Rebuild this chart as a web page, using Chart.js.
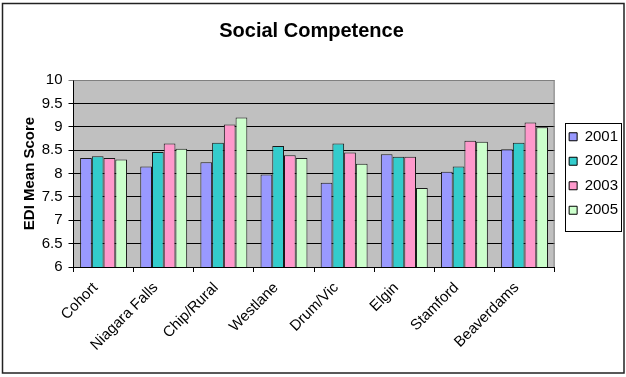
<!DOCTYPE html>
<html>
<head>
<meta charset="utf-8">
<title>Social Competence</title>
<script src="https://cdn.jsdelivr.net/npm/chart.js@4.4.1/dist/chart.umd.min.js"></script>
<style>
  html, body { margin: 0; padding: 0; background: #fff; }
  #wrap { width: 626px; height: 377px; }
</style>
</head>
<body>
<div id="wrap"><canvas id="socialChart" width="626" height="377"></canvas></div>
<script>
// Sites and yearly EDI mean scores
const sites = ['Cohort', 'Niagara Falls', 'Chip/Rural', 'Westlane', 'Drum/Vic', 'Elgin', 'Stamford', 'Beaverdams'];
const years = ['2001', '2002', '2003', '2005'];

const scores2001 = [8.33, 8.15, 8.24, 7.98, 7.80, 8.41, 8.04, 8.52];
const scores2002 = [8.37, 8.46, 8.66, 8.59, 8.64, 8.36, 8.15, 8.66];
const scores2003 = [8.33, 8.64, 9.05, 8.39, 8.45, 8.36, 8.70, 9.09];
const scores2005 = [8.30, 8.53, 9.20, 8.33, 8.21, 7.69, 8.68, 8.99];

const yearColors = ['#9999FF', '#33CCCC', '#FF99CC', '#CCFFCC'];

const FONT = 'Arial, "Liberation Sans", sans-serif';
const LEGEND_SHIFT = 5;

// grey plot background, frame lines and the legend/outer borders
const frame = {
    id: 'frame',
    afterLayout(chart) {
        // nudge the legend a little away from the plot
        const lg = chart.legend;
        lg.left += LEGEND_SHIFT;
        lg.right += LEGEND_SHIFT;
        if (lg.adjustHitBoxes) lg.adjustHitBoxes();
    },
    beforeDraw(chart) {
        const { ctx, chartArea: a } = chart;
        ctx.save();
        ctx.fillStyle = '#fff';
        ctx.fillRect(0, 0, chart.width, chart.height);
        ctx.fillStyle = '#C0C0C0';
        ctx.fillRect(a.left, a.top, a.right - a.left, a.bottom - a.top);
        ctx.restore();
    },
    afterDraw(chart) {
        const { ctx, chartArea: a, legend } = chart;
        ctx.save();
        // plot frame: top and right edges in grey
        ctx.strokeStyle = '#808080';
        ctx.lineWidth = 1;
        ctx.beginPath();
        ctx.moveTo(a.left, a.top + 0.5);
        ctx.lineTo(a.right - 0.5, a.top + 0.5);
        ctx.lineTo(a.right - 0.5, a.bottom);
        ctx.stroke();

        // legend box
        const hb = legend.legendHitBoxes;
        if (hb && hb.length) {
            const x0 = legend.left + legend.options.labels.padding - 4;
            const y0 = hb[0].top - 6.5;
            const last = hb[hb.length - 1];
            const w = Math.max(...hb.map(h => h.width));
            ctx.strokeStyle = '#000';
            ctx.strokeRect(Math.round(x0) + 0.5, Math.round(y0) + 0.5,
                Math.round(w + 7), Math.round(last.top + last.height + 13 - y0));
        }

        // outer chart border
        ctx.strokeStyle = '#222';
        ctx.lineWidth = 1.5;
        ctx.strokeRect(2.5, 3.5, 621.5, 369.5);
        ctx.restore();
    }
};

const makeSet = (label, data, color) => ({
    label,
    data,
    backgroundColor: color,
    borderColor: '#1a1a1a',
    borderWidth: 1,
    categoryPercentage: 0.78,
    barPercentage: 1.0
});

const ctx = document.getElementById('socialChart').getContext('2d');
new Chart(ctx, {
    type: 'bar',
    data: {
        labels: sites,
        datasets: [
            makeSet(years[0], scores2001, yearColors[0]),
            makeSet(years[1], scores2002, yearColors[1]),
            makeSet(years[2], scores2003, yearColors[2]),
            makeSet(years[3], scores2005, yearColors[3])
        ]
    },
    options: {
        responsive: false,
        animation: false,
        devicePixelRatio: 1,
        layout: { padding: { left: 0, right: 3, top: 0, bottom: 10 } },
        plugins: {
            title: {
                display: true,
                text: 'Social Competence',
                color: '#000',
                font: { family: FONT, size: 20, weight: 'bold' },
                padding: { top: 19, bottom: 37 }
            },
            legend: {
                position: 'right',
                fullSize: false,
                labels: {
                    color: '#000',
                    font: { family: FONT, size: 15 },
                    boxWidth: 8,
                    boxHeight: 8,
                    padding: 9.5,
                    generateLabels(chart) {
                        return chart.data.datasets.map((ds, i) => ({
                            text: ds.label,
                            fillStyle: ds.backgroundColor,
                            strokeStyle: '#000',
                            lineWidth: 1,
                            datasetIndex: i
                        }));
                    }
                }
            },
            tooltip: { enabled: false }
        },
        scales: {
            x: {
                afterFit(scale) { scale.height = 100; },
                grid: {
                    drawOnChartArea: false,
                    drawTicks: true,
                    tickLength: 5,
                    color: '#000',
                    offset: true
                },
                border: { display: true, color: '#000', width: 1 },
                ticks: {
                    color: '#000',
                    font: { family: FONT, size: 15 },
                    minRotation: 45,
                    maxRotation: 45,
                    autoSkip: false,
                    labelOffset: -8,
                    padding: 7
                }
            },
            y: {
                min: 6,
                max: 10,
                afterFit(scale) { scale.width = 73.5; },
                ticks: {
                    stepSize: 0.5,
                    color: '#000',
                    font: { family: FONT, size: 15 },
                    padding: 6,
                    callback: (value) => String(Number(value))
                },
                grid: {
                    color: (c) => (c.tick && c.tick.value === 10 ? '#808080' : '#000'),
                    lineWidth: 1,
                    tickLength: 5,
                    drawTicks: true
                },
                border: { display: true, color: '#000', width: 1 },
                title: {
                    display: true,
                    text: 'EDI Mean Score',
                    color: '#000',
                    font: { family: FONT, size: 15, weight: 'bold' },
                    padding: { top: 21, bottom: 0 }
                }
            }
        }
    },
    plugins: [frame]
});
</script>
</body>
</html>
